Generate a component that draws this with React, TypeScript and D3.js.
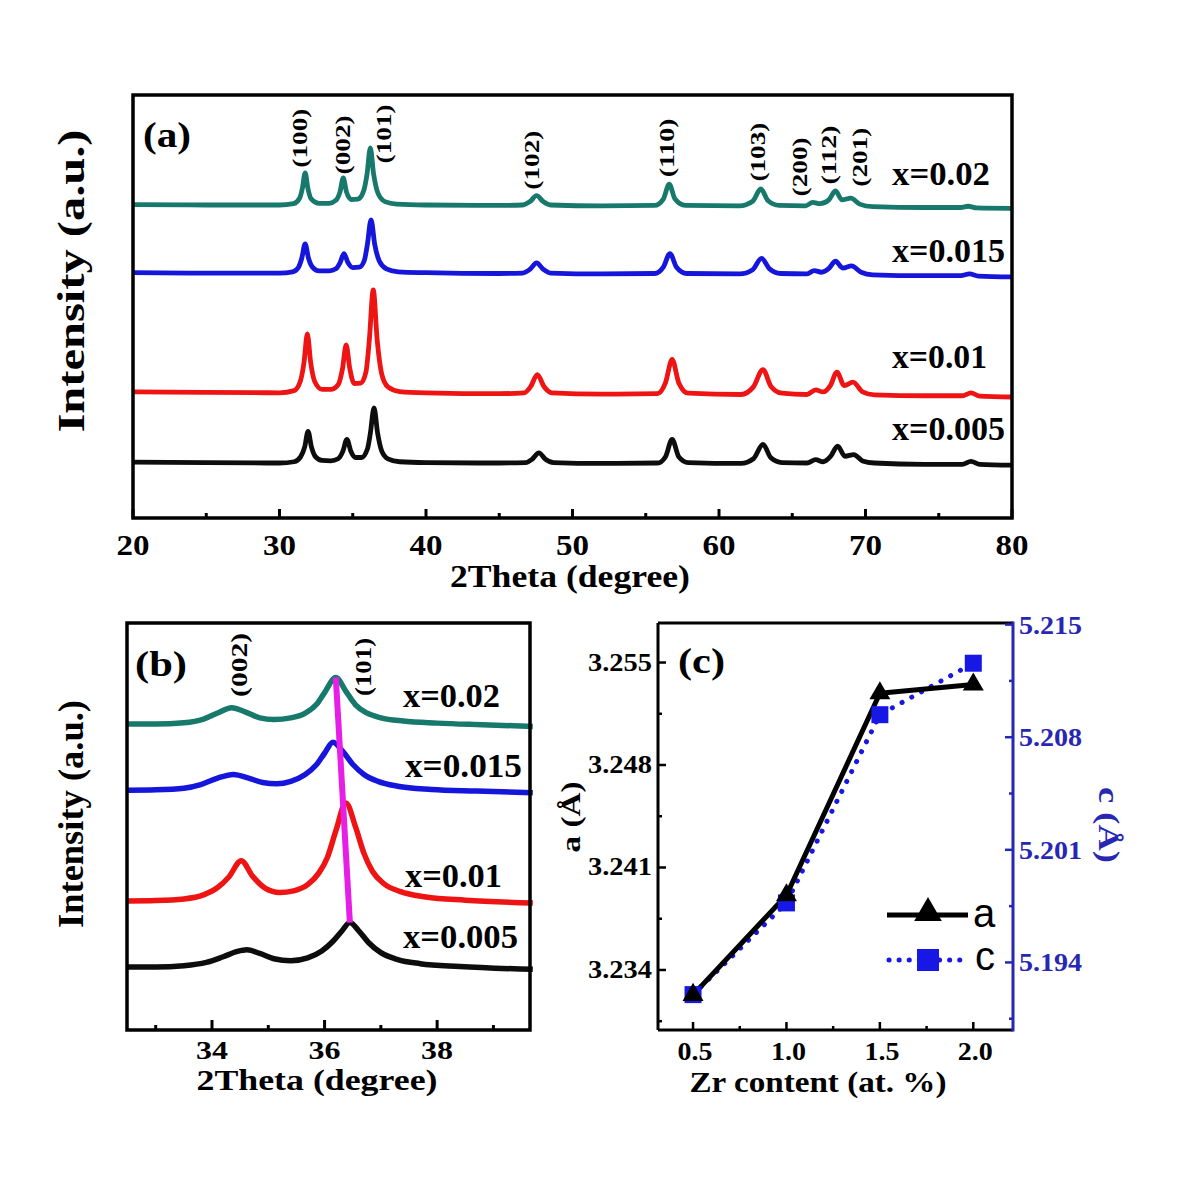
import React from "react";
import * as d3 from "d3";

const SERIF = "'Liberation Serif','Times New Roman',serif";
const SANS = "'Liberation Sans',Arial,sans-serif";

// ---------------- shared ----------------
const sampleNames = ["x=0.005", "x=0.01", "x=0.015", "x=0.02"];
const sampleColors = ["#0d0d0d", "#ee1414", "#1515dc", "#17786c"];

// ---------------- panel (a) ----------------
const xTicksA = [20, 30, 40, 50, 60, 70, 80];
const xMinorA = [25, 35, 45, 55, 65, 75];
const offsetA = [13.0, 29.5, 57.9, 74.0];
const hklA = ["(100)", "(002)", "(101)", "(102)", "(110)", "(103)", "(200)", "(112)", "(201)"];
const hklAPos = [31.4, 34.27, 37.13, 47.17, 56.45, 62.6, 65.5, 67.5, 69.56];
const hklAY = [89.8, 88.2, 90.8, 84.6, 87.5, 86.5, 83.0, 85.8, 85.3];

const patternA005 = [
  [20, 0.2], [25, 0.1], [30, 0], [31.0, 0.3], [31.45, 1.5], [31.72, 3.8], [31.95, 7.5], [32.18, 3.8], [32.45, 1.5],
  [32.9, 0.6], [33.5, 0.5], [34.0, 1.0], [34.33, 2.8], [34.6, 5.6], [34.87, 2.8], [35.2, 1.3], [35.6, 1.3],
  [36.0, 3.3], [36.2, 7.0], [36.45, 13.0], [36.7, 7.0], [36.98, 2.8], [37.4, 1.0], [38.2, 0.3], [40, 0.1],
  [45, 0], [46.8, 0.1], [47.25, 0.9], [47.7, 2.4], [48.15, 0.9], [48.7, 0.1], [52, -0.1], [55.8, 0], [56.35, 1.5],
  [56.8, 5.6], [57.25, 1.5], [57.9, 0.1], [61.5, -0.1], [62.35, 1.0], [63.0, 4.4], [63.55, 1.2], [64.3, 0.1],
  [66.0, 0], [66.6, 0.8], [67.1, 0.3], [67.6, 1.5], [68.1, 4.0], [68.6, 1.6], [69.2, 2.0], [69.8, 0.5],
  [70.6, 0], [74, -0.3], [76.6, -0.3], [77.2, 0.4], [77.8, -0.3], [80, -0.5],
];
const patternA010 = [
  [20, 0.3], [25, 0.2], [30, 0.1], [31.0, 0.6], [31.42, 2.8], [31.67, 7.2], [31.9, 14.0], [32.13, 7.2], [32.4, 2.8],
  [32.9, 0.9], [33.5, 0.9], [34.0, 2.0], [34.3, 5.8], [34.55, 11.4], [34.8, 5.8], [35.1, 2.3], [35.55, 2.4],
  [35.9, 5.0], [36.13, 12.5], [36.4, 24.4], [36.67, 12.5], [36.98, 4.5], [37.4, 1.5], [38.2, 0.4], [40, 0.1],
  [45, -0.1], [46.7, 0.1], [47.15, 1.6], [47.6, 4.4], [48.05, 1.6], [48.6, 0.1], [52, -0.2], [55.8, -0.1],
  [56.35, 2.5], [56.8, 8.0], [57.25, 2.5], [57.9, 0], [61.5, -0.3], [62.35, 1.5], [63.0, 5.6], [63.55, 1.6],
  [64.3, 0], [66.0, -0.3], [66.6, 0.8], [67.1, 0.3], [67.6, 1.8], [68.05, 5.0], [68.55, 1.8], [69.15, 2.6],
  [69.8, 0.3], [70.6, -0.4], [74, -0.6], [76.6, -0.6], [77.2, 0.1], [77.8, -0.7], [80, -0.9],
];
const patternA015 = [
  [20, 0.1], [25, 0], [30, 0], [30.9, 0.3], [31.3, 1.4], [31.52, 3.5], [31.75, 6.9], [31.98, 3.5], [32.25, 1.4],
  [32.7, 0.5], [33.4, 0.5], [33.85, 1.0], [34.13, 2.4], [34.4, 4.6], [34.67, 2.5], [35.0, 1.3], [35.45, 1.4],
  [35.8, 3.1], [36.0, 6.8], [36.25, 12.6], [36.5, 6.8], [36.82, 2.8], [37.3, 1.0], [38.1, 0.3], [40, 0.1],
  [45, -0.1], [46.6, 0], [47.1, 0.9], [47.55, 2.4], [48.0, 0.9], [48.5, 0], [52, -0.2], [55.6, -0.1],
  [56.2, 1.4], [56.65, 4.6], [57.1, 1.4], [57.8, -0.1], [61.4, -0.2], [62.3, 0.8], [62.9, 3.5], [63.45, 1.0],
  [64.2, -0.1], [66.0, -0.2], [66.5, 0.6], [67.0, 0.2], [67.5, 1.1], [67.95, 2.8], [68.45, 1.2], [69.05, 1.7],
  [69.7, 0.2], [70.5, -0.4], [74, -0.6], [76.5, -0.6], [77.1, -0.2], [77.7, -0.7], [80, -0.9],
];
const patternA020 = [
  [20, 0.1], [25, 0], [30, 0], [30.95, 0.3], [31.37, 1.6], [31.56, 3.9], [31.75, 7.6], [31.94, 3.9], [32.15, 1.5],
  [32.7, 0.4], [33.4, 0.4], [33.85, 1.1], [34.13, 3.1], [34.35, 6.4], [34.57, 3.1], [34.9, 1.3], [35.35, 1.4],
  [35.75, 3.4], [35.98, 7.4], [36.2, 13.5], [36.42, 7.4], [36.72, 2.8], [37.2, 0.8], [38, 0.2], [40, 0],
  [45, -0.1], [46.6, 0], [47.1, 0.8], [47.55, 2.2], [48.0, 0.8], [48.5, 0], [52, -0.2], [55.6, -0.1],
  [56.2, 1.4], [56.6, 4.9], [57.0, 1.4], [57.7, -0.1], [61.4, -0.2], [62.3, 0.9], [62.85, 3.8], [63.35, 1.0],
  [64.1, -0.1], [65.9, -0.2], [66.4, 0.6], [66.9, 0.3], [67.5, 1.2], [67.95, 3.3], [68.4, 1.2], [69.0, 1.6],
  [69.6, 0.2], [70.5, -0.4], [74, -0.6], [76.5, -0.6], [77.0, -0.3], [77.6, -0.7], [80, -0.8],
];

// ---------------- panel (b) ----------------
const xTicksB = [34, 36, 38];
const xMinorB = [33, 35, 37, 39];
const offsetB = [15.2, 31.4, 58.5, 74.9];
const hklB = ["(002)", "(101)"];
const hklBPos = [34.48, 36.68];
const hklBY = [89.7, 89.2];
const shiftLine101 = [[36.2, 86.6], [36.45, 26.4]];

const patternB005 = [
  [32.5, 0.3], [33.0, 0.3], [33.5, 0.6], [33.9, 1.4], [34.2, 2.8], [34.45, 4.1], [34.62, 4.5], [34.85, 3.6],
  [35.1, 2.3], [35.4, 1.8], [35.7, 2.5], [35.95, 4.2], [36.15, 6.6], [36.3, 9.0], [36.45, 11.2], [36.6, 9.3],
  [36.78, 6.3], [37.0, 3.8], [37.3, 2.1], [37.7, 1.1], [38.4, 0.4], [39.7, -0.3],
];
const patternB010 = [
  [32.5, 0.3], [33.0, 0.4], [33.5, 0.8], [33.85, 1.8], [34.1, 3.6], [34.3, 6.2], [34.52, 10.2], [34.72, 6.4],
  [34.95, 3.4], [35.2, 2.4], [35.45, 2.8], [35.7, 4.3], [35.9, 7.2], [36.05, 11.0], [36.2, 17.5], [36.38, 24.4],
  [36.55, 18.5], [36.7, 12.0], [36.85, 7.6], [37.05, 4.6], [37.35, 2.6], [37.8, 1.3], [38.5, 0.5], [39.7, -0.2],
];
const patternB015 = [
  [32.5, 0.4], [33.0, 0.5], [33.5, 0.9], [33.8, 1.8], [34.1, 3.4], [34.38, 4.3], [34.65, 3.4], [34.9, 2.3],
  [35.15, 2.0], [35.4, 2.6], [35.65, 4.2], [35.85, 6.6], [36.0, 9.5], [36.15, 12.2], [36.32, 10.0], [36.5, 6.8],
  [36.7, 4.3], [36.95, 2.6], [37.3, 1.4], [37.9, 0.6], [38.7, 0.2], [39.7, -0.2],
];
const patternB020 = [
  [32.5, 0.3], [33.0, 0.3], [33.5, 0.6], [33.85, 1.5], [34.1, 3.0], [34.35, 4.3], [34.6, 3.2], [34.85, 1.8],
  [35.1, 1.4], [35.4, 1.8], [35.65, 2.9], [35.85, 5.0], [36.0, 8.0], [36.2, 11.7], [36.38, 8.3], [36.55, 5.0],
  [36.75, 3.0], [37.0, 1.8], [37.4, 1.0], [38.0, 0.5], [38.8, 0.1], [39.7, -0.3],
];

// ---------------- panel (c) ----------------
const zrContent = [0.5, 1.0, 1.5, 2.0];
const latticeA = [3.2323, 3.2391, 3.2529, 3.2535];
const latticeC = [5.192, 5.1977, 5.2094, 5.2126];
const xTicksC = [0.5, 1.0, 1.5, 2.0];
const xMinorC = [0.75, 1.25, 1.75];
const yTicksA = [3.234, 3.241, 3.248, 3.255];
const yMinorA = [3.2305, 3.2375, 3.2445, 3.2515];
const yTicksCc = [5.194, 5.201, 5.208, 5.215];
const yMinorCc = [5.1905, 5.1975, 5.2045, 5.2115];

const BLUE_AX = "#2727b4";
const BLUE_PT = "#1818e6";

export default function App() {
  // scales
  const xA = d3.scaleLinear().domain([20, 80]).range([133, 1012]);
  const yA = d3.scaleLinear().domain([0, 100]).range([518, 95]);
  const xB = d3.scaleLinear().domain([32.49, 39.65]).range([127, 530]);
  const yB = d3.scaleLinear().domain([0, 100]).range([1030, 623]);
  const xC = d3.scaleLinear().domain([0.3125, 2.2125]).range([658, 1013]);
  const yCa = d3.scaleLinear().domain([3.2299, 3.2577]).range([1030, 623]);
  const yCc = d3.scaleLinear().domain([5.1898, 5.2151]).range([1030, 623]);

  const patternsA = [patternA005, patternA010, patternA015, patternA020];
  const patternsB = [patternB005, patternB010, patternB015, patternB020];

  const mkLine = (xs: any, ys: any, off: number) =>
    d3
      .line<number[]>()
      .x((d) => xs(d[0]))
      .y((d) => ys(d[1] + off))
      .curve(d3.curveMonotoneX);

  const legendA = [
    { y: 440, len: 113 },
    { y: 368, len: 95 },
    { y: 262, len: 113 },
    { y: 185, len: 98 },
  ];
  const legendB = [
    { x: 403, y: 948, len: 115 },
    { x: 405, y: 887, len: 97 },
    { x: 405, y: 777, len: 117 },
    { x: 403, y: 707, len: 97 },
  ];

  const lineCa = d3
    .line<number>()
    .x((_, i) => xC(zrContent[i]))
    .y((d) => yCa(d));
  const lineCc = d3
    .line<number>()
    .x((_, i) => xC(zrContent[i]))
    .y((d) => yCc(d));
  const tri = d3.symbol(d3.symbolTriangle, 190)();
  const triL = d3.symbol(d3.symbolTriangle, 330)();
  const sqS = 17;
  const sqL = 22;

  const fmt3 = d3.format(".3f");
  const fmt1 = d3.format(".1f");

  const serifBold: any = { fontFamily: SERIF, fontWeight: 700 };

  return (
    <svg
      width={1200}
      height={1194}
      viewBox="0 0 1200 1194"
      style={{ position: "absolute", left: 0, top: 0, background: "#fff" }}
    >
      <rect x={0} y={0} width={1200} height={1194} fill="#fff" />

      {/* ================= PANEL (a) ================= */}
      <g>
        {patternsA.map((p, i) => (
          <path
            key={"pa" + i}
            d={mkLine(xA, yA, offsetA[i])(p as any) || ""}
            fill="none"
            stroke={sampleColors[i]}
            strokeWidth={4.8}
            strokeLinejoin="round"
          />
        ))}
        <rect x={133} y={95} width={1012 - 133} height={518 - 95} fill="none" stroke="#000" strokeWidth={3.5} />
        {xTicksA.map((t) => (
          <g key={"xta" + t}>
            <line x1={xA(t)} x2={xA(t)} y1={518} y2={509} stroke="#000" strokeWidth={3} />
            <text x={xA(t)} y={555} textAnchor="middle" style={serifBold} fontSize={30} textLength={33} lengthAdjust="spacingAndGlyphs">
              {t}
            </text>
          </g>
        ))}
        {xMinorA.map((t) => (
          <line key={"xma" + t} x1={xA(t)} x2={xA(t)} y1={518} y2={513} stroke="#000" strokeWidth={3} />
        ))}
        <text x={570} y={587} textAnchor="middle" style={serifBold} fontSize={32} textLength={240} lengthAdjust="spacingAndGlyphs">
          2Theta (degree)
        </text>
        <text transform="translate(84,281) rotate(-90)" textAnchor="middle" style={serifBold} fontSize={37} textLength={303} lengthAdjust="spacingAndGlyphs">
          Intensity (a.u.)
        </text>
        <text x={143} y={147} style={serifBold} fontSize={36} textLength={48} lengthAdjust="spacingAndGlyphs">
          (a)
        </text>
        {hklA.map((h, i) => (
          <text
            key={"hkla" + i}
            transform={`translate(${xA(hklAPos[i])},${yA(hklAY[i])}) rotate(-90)`}
            textAnchor="middle"
            dy="0.34em"
            style={serifBold}
            fontSize={22}
            textLength={59}
            lengthAdjust="spacingAndGlyphs"
          >
            {h}
          </text>
        ))}
        {sampleNames.map((n, i) => (
          <text key={"lga" + i} x={892} y={legendA[i].y} style={serifBold} fontSize={34} textLength={legendA[i].len} lengthAdjust="spacingAndGlyphs">
            {n}
          </text>
        ))}
      </g>

      {/* ================= PANEL (b) ================= */}
      <g>
        {patternsB.map((p, i) => (
          <path
            key={"pb" + i}
            d={mkLine(xB, yB, offsetB[i])(p as any) || ""}
            fill="none"
            stroke={sampleColors[i]}
            strokeWidth={5.5}
            strokeLinejoin="round"
          />
        ))}
        <line
          x1={xB(shiftLine101[0][0])}
          y1={yB(shiftLine101[0][1])}
          x2={xB(shiftLine101[1][0])}
          y2={yB(shiftLine101[1][1])}
          stroke="#e61ee6"
          strokeWidth={6}
        />
        <rect x={127} y={623} width={530 - 127} height={1030 - 623} fill="none" stroke="#000" strokeWidth={3.5} />
        {xTicksB.map((t) => (
          <g key={"xtb" + t}>
            <line x1={xB(t)} x2={xB(t)} y1={1030} y2={1020} stroke="#000" strokeWidth={3} />
            <text x={xB(t)} y={1059} textAnchor="middle" style={serifBold} fontSize={26} textLength={32} lengthAdjust="spacingAndGlyphs">
              {t}
            </text>
          </g>
        ))}
        {xMinorB.map((t) => (
          <line key={"xmb" + t} x1={xB(t)} x2={xB(t)} y1={1030} y2={1025} stroke="#000" strokeWidth={3} />
        ))}
        <text x={317} y={1090} textAnchor="middle" style={serifBold} fontSize={30} textLength={241} lengthAdjust="spacingAndGlyphs">
          2Theta (degree)
        </text>
        <text transform="translate(83,814) rotate(-90)" textAnchor="middle" style={serifBold} fontSize={36} textLength={228} lengthAdjust="spacingAndGlyphs">
          Intensity (a.u.)
        </text>
        <text x={135} y={676} style={serifBold} fontSize={35} textLength={52} lengthAdjust="spacingAndGlyphs">
          (b)
        </text>
        {hklB.map((h, i) => (
          <text
            key={"hklb" + i}
            transform={`translate(${xB(hklBPos[i])},${yB(hklBY[i])}) rotate(-90)`}
            textAnchor="middle"
            dy="0.34em"
            style={serifBold}
            fontSize={24}
            textLength={i === 0 ? 64 : 58}
            lengthAdjust="spacingAndGlyphs"
          >
            {h}
          </text>
        ))}
        {sampleNames.map((n, i) => (
          <text key={"lgb" + i} x={legendB[i].x} y={legendB[i].y} style={serifBold} fontSize={33} textLength={legendB[i].len} lengthAdjust="spacingAndGlyphs">
            {n}
          </text>
        ))}
      </g>

      {/* ================= PANEL (c) ================= */}
      <g>
        <path
          d={lineCc(latticeC) || ""}
          fill="none"
          stroke={BLUE_PT}
          strokeWidth={5}
          strokeDasharray="0.1 11"
          strokeLinecap="round"
        />
        <path d={lineCa(latticeA) || ""} fill="none" stroke="#000" strokeWidth={5} strokeLinejoin="round" />
        {latticeC.map((v, i) => (
          <rect key={"sq" + i} x={xC(zrContent[i]) - sqS / 2} y={yCc(v) - sqS / 2} width={sqS} height={sqS} fill={BLUE_PT} />
        ))}
        {latticeA.map((v, i) => (
          <path key={"tr" + i} d={tri || ""} transform={`translate(${xC(zrContent[i])},${yCa(v)})`} fill="#000" />
        ))}

        {/* frame */}
        <line x1={658} x2={1013} y1={623} y2={623} stroke="#000" strokeWidth={3} />
        <line x1={658} x2={658} y1={623} y2={1030} stroke="#000" strokeWidth={3} />
        <line x1={658} x2={1013} y1={1030} y2={1030} stroke="#000" strokeWidth={3} />
        <line x1={1013} x2={1013} y1={621.5} y2={1031.5} stroke={BLUE_AX} strokeWidth={3} />

        {/* bottom ticks */}
        {xTicksC.map((t) => (
          <g key={"xtc" + t}>
            <line x1={xC(t)} x2={xC(t)} y1={1030} y2={1022} stroke="#000" strokeWidth={2.5} />
            <text x={xC(t) + 2} y={1060} textAnchor="middle" style={serifBold} fontSize={25} textLength={35} lengthAdjust="spacingAndGlyphs">
              {fmt1(t)}
            </text>
          </g>
        ))}
        {xMinorC.map((t) => (
          <line key={"xmc" + t} x1={xC(t)} x2={xC(t)} y1={1030} y2={1026} stroke="#000" strokeWidth={2.5} />
        ))}
        {/* left ticks */}
        {yTicksA.map((t) => (
          <g key={"yta" + t}>
            <line x1={658} x2={666} y1={yCa(t)} y2={yCa(t)} stroke="#000" strokeWidth={2.5} />
            <text x={652} y={yCa(t) + 8} textAnchor="end" style={serifBold} fontSize={25} textLength={64} lengthAdjust="spacingAndGlyphs">
              {fmt3(t)}
            </text>
          </g>
        ))}
        {yMinorA.map((t) => (
          <line key={"yma" + t} x1={658} x2={662} y1={yCa(t)} y2={yCa(t)} stroke="#000" strokeWidth={2.5} />
        ))}
        {/* right ticks */}
        {yTicksCc.map((t) => (
          <g key={"ytc" + t}>
            <line x1={1013} x2={1005} y1={yCc(t)} y2={yCc(t)} stroke={BLUE_AX} strokeWidth={2.5} />
            <text x={1019} y={yCc(t) + 9} style={serifBold} fontSize={25} fill={BLUE_AX} textLength={63} lengthAdjust="spacingAndGlyphs">
              {fmt3(t)}
            </text>
          </g>
        ))}
        {yMinorCc.map((t) => (
          <line key={"ymc" + t} x1={1013} x2={1009} y1={yCc(t)} y2={yCc(t)} stroke={BLUE_AX} strokeWidth={2.5} />
        ))}

        {/* axis titles */}
        <text x={818} y={1092} textAnchor="middle" style={serifBold} fontSize={29} textLength={257} lengthAdjust="spacingAndGlyphs">
          Zr content (at. %)
        </text>
        <text transform="translate(580,817) rotate(-90)" textAnchor="middle" style={serifBold} fontSize={28} textLength={71} lengthAdjust="spacingAndGlyphs">
          a (Å)
        </text>
        <text transform="translate(1099,825) rotate(90)" textAnchor="middle" style={serifBold} fontSize={30} fill={BLUE_AX} textLength={76} lengthAdjust="spacingAndGlyphs">
          c (Å)
        </text>
        <text x={678} y={673} style={serifBold} fontSize={36} textLength={47} lengthAdjust="spacingAndGlyphs">
          (c)
        </text>

        {/* legend */}
        <line x1={887} x2={968} y1={915} y2={915} stroke="#000" strokeWidth={5} />
        <path d={triL || ""} transform="translate(928,913)" fill="#000" />
        <text x={973} y={927} style={{ fontFamily: SANS }} fontSize={40}>
          a
        </text>
        <line x1={889} x2={968} y1={960} y2={960} stroke={BLUE_PT} strokeWidth={5} strokeDasharray="0.1 10" strokeLinecap="round" />
        <rect x={928 - sqL / 2} y={960 - sqL / 2} width={sqL} height={sqL} fill={BLUE_PT} />
        <text x={975} y={970} style={{ fontFamily: SANS }} fontSize={40}>
          c
        </text>
      </g>
    </svg>
  );
}
